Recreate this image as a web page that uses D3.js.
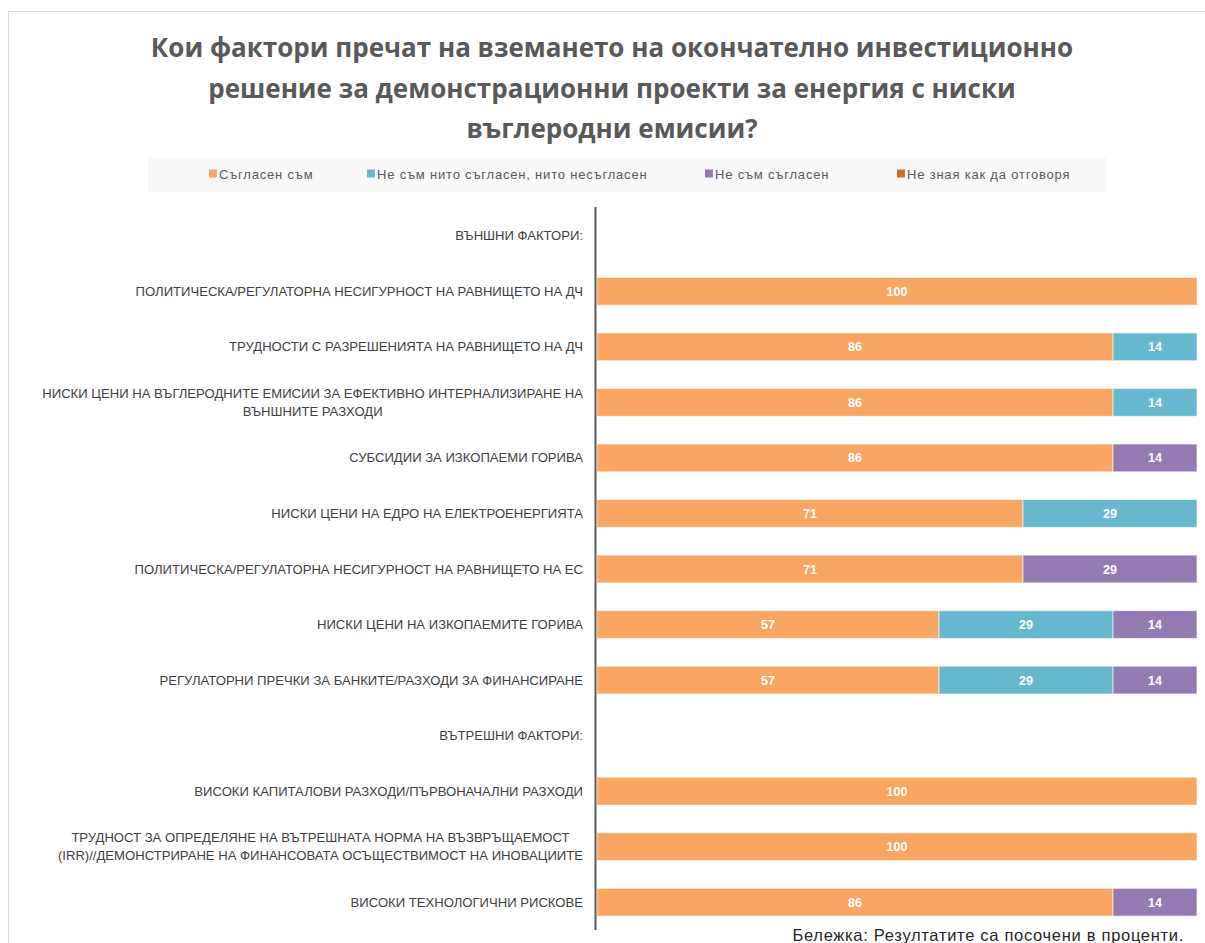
<!DOCTYPE html>
<html>
<head>
<meta charset="utf-8">
<script src="https://cdn.jsdelivr.net/npm/d3@7"></script>
<style>
  html, body { margin: 0; padding: 0; background: #ffffff; }
  svg { display: block; }
</style>
</head>
<body>
<svg id="chart" width="1205" height="943"></svg>
<script>
const titleLines = [
  "Кои фактори пречат на вземането на окончателно инвестиционно",
  "решение за демонстрационни проекти за енергия с ниски",
  "въглеродни емисии?"
];
const seriesNames = ["Съгласен съм", "Не съм нито съгласен, нито несъгласен", "Не съм съгласен", "Не зная как да отговоря"];
const seriesColors = ["#F8A661", "#67B8CF", "#957BB3", "#C8702C"];

const categories = [
  ["ВЪНШНИ ФАКТОРИ:"],
  ["ПОЛИТИЧЕСКА/РЕГУЛАТОРНА НЕСИГУРНОСТ НА РАВНИЩЕТО НА ДЧ"],
  ["ТРУДНОСТИ С РАЗРЕШЕНИЯТА НА РАВНИЩЕТО НА ДЧ"],
  ["НИСКИ ЦЕНИ НА ВЪГЛЕРОДНИТЕ ЕМИСИИ ЗА ЕФЕКТИВНО ИНТЕРНАЛИЗИРАНЕ НА", "ВЪНШНИТЕ РАЗХОДИ"],
  ["СУБСИДИИ ЗА ИЗКОПАЕМИ ГОРИВА"],
  ["НИСКИ ЦЕНИ НА ЕДРО НА ЕЛЕКТРОЕНЕРГИЯТА"],
  ["ПОЛИТИЧЕСКА/РЕГУЛАТОРНА НЕСИГУРНОСТ НА РАВНИЩЕТО НА ЕС"],
  ["НИСКИ ЦЕНИ НА ИЗКОПАЕМИТЕ ГОРИВА"],
  ["РЕГУЛАТОРНИ ПРЕЧКИ ЗА БАНКИТЕ/РАЗХОДИ ЗА ФИНАНСИРАНЕ"],
  ["ВЪТРЕШНИ ФАКТОРИ:"],
  ["ВИСОКИ КАПИТАЛОВИ РАЗХОДИ/ПЪРВОНАЧАЛНИ РАЗХОДИ"],
  ["ТРУДНОСТ ЗА ОПРЕДЕЛЯНЕ НА ВЪТРЕШНАТА НОРМА НА ВЪЗВРЪЩАЕМОСТ", "(IRR)//ДЕМОНСТРИРАНЕ НА ФИНАНСОВАТА ОСЪЩЕСТВИМОСТ НА ИНОВАЦИИТЕ"],
  ["ВИСОКИ ТЕХНОЛОГИЧНИ РИСКОВЕ"]
];
const agree     = [0, 100, 86, 86, 86, 71, 71, 57, 57, 0, 100, 100, 86];
const neutral   = [0,   0, 14, 14,  0, 29,  0, 29, 29, 0,   0,   0,  0];
const disagree  = [0,   0,  0,  0, 14,  0, 29, 14, 14, 0,   0,   0, 14];
const dontKnow  = [0,   0,  0,  0,  0,  0,  0,  0,  0, 0,   0,   0,  0];
const footnote = "Бележка: Резултатите са посочени в проценти.";

const FONT = "'Liberation Sans', Arial, sans-serif";
const svg = d3.select("#chart");

// outer border
svg.append("rect").attr("x", 8.5).attr("y", 11.5).attr("width", 1205).attr("height", 940)
  .attr("fill", "#ffffff").attr("stroke", "#d9d9d9").attr("stroke-width", 1);

// title
svg.append("g").selectAll("text").data(titleLines).join("text")
  .attr("x", 612).attr("y", (d, i) => 57 + i * 40.5)
  .attr("text-anchor", "middle")
  .attr("font-family", "'Open Sans', Lato, sans-serif")
  .attr("font-weight", "bold").attr("font-size", 26)
  .attr("fill", "#595959").text(d => d);

// legend
svg.append("rect").attr("x", 148).attr("y", 157).attr("width", 958).attr("height", 35).attr("fill", "#f8f8f8");
const legendX = [209, 367, 705, 897];
const lg = svg.append("g").selectAll("g").data(seriesNames).join("g")
  .attr("transform", (d, i) => `translate(${legendX[i]},174)`);
lg.append("rect").attr("x", 0).attr("y", -4.5).attr("width", 8).attr("height", 8)
  .attr("fill", (d, i) => seriesColors[i]);
lg.append("text").attr("x", 10).attr("y", 4.5)
  .attr("font-family", FONT).attr("font-size", 13).attr("letter-spacing", 0.8)
  .attr("fill", "#595959").text(d => d);

// scales
const x = d3.scaleLinear().domain([0, 100]).range([597, 1197]);
const y = d3.scaleBand().domain(d3.range(categories.length)).range([208, 930])
  .paddingInner(0.5).paddingOuter(0.25);

const series = [agree, neutral, disagree, dontKnow];
const rows = categories.map((c, i) => {
  let acc = 0;
  return series.map((s, k) => {
    const seg = { row: i, k, v: s[i], x0: acc, x1: acc + s[i] };
    acc += s[i];
    return seg;
  }).filter(d => d.v > 0);
});
const segs = rows.flat();

const bars = svg.append("g");
bars.selectAll("rect").data(segs).join("rect")
  .attr("x", d => x(d.x0)).attr("y", d => y(d.row))
  .attr("width", d => x(d.x1) - x(d.x0)).attr("height", y.bandwidth())
  .attr("fill", d => seriesColors[d.k])
  .attr("stroke", "#ffffff").attr("stroke-opacity", 0.6).attr("stroke-width", 1);

bars.selectAll("text").data(segs).join("text")
  .attr("x", d => (x(d.x0) + x(d.x1)) / 2)
  .attr("y", d => y(d.row) + y.bandwidth() / 2 + 4.5)
  .attr("text-anchor", "middle")
  .attr("font-family", FONT)
  .attr("font-weight", "bold").attr("font-size", 12.5)
  .attr("fill", "#ffffff").text(d => d.v);

// category axis line
svg.append("line").attr("x1", 595.5).attr("x2", 595.5).attr("y1", 207).attr("y2", 930)
  .attr("stroke", "#595959").attr("stroke-width", 2);

// category labels
const labelRight = 583;
const lab = svg.append("g").selectAll("g").data(categories).join("g");
lab.each(function(lines, i) {
  const g = d3.select(this);
  const cy = y(i) + y.bandwidth() / 2;
  const lh = 18;
  const t = g.selectAll("text").data(lines).join("text")
    .attr("y", (d, j) => cy + 4.5 + (j - (lines.length - 1) / 2) * lh)
    .attr("font-family", FONT).attr("font-size", 13.1).attr("fill", "#404040")
    .text(d => d);
  let w = 0;
  t.each(function() { w = Math.max(w, this.getComputedTextLength()); });
  t.attr("x", labelRight - w / 2).attr("text-anchor", "middle");
});

// footnote
svg.append("text").attr("x", 1184).attr("y", 941).attr("text-anchor", "end")
  .attr("font-family", FONT).attr("font-size", 16.5).attr("letter-spacing", 0.7)
  .attr("fill", "#262626").text(footnote);
</script>
</body>
</html>
